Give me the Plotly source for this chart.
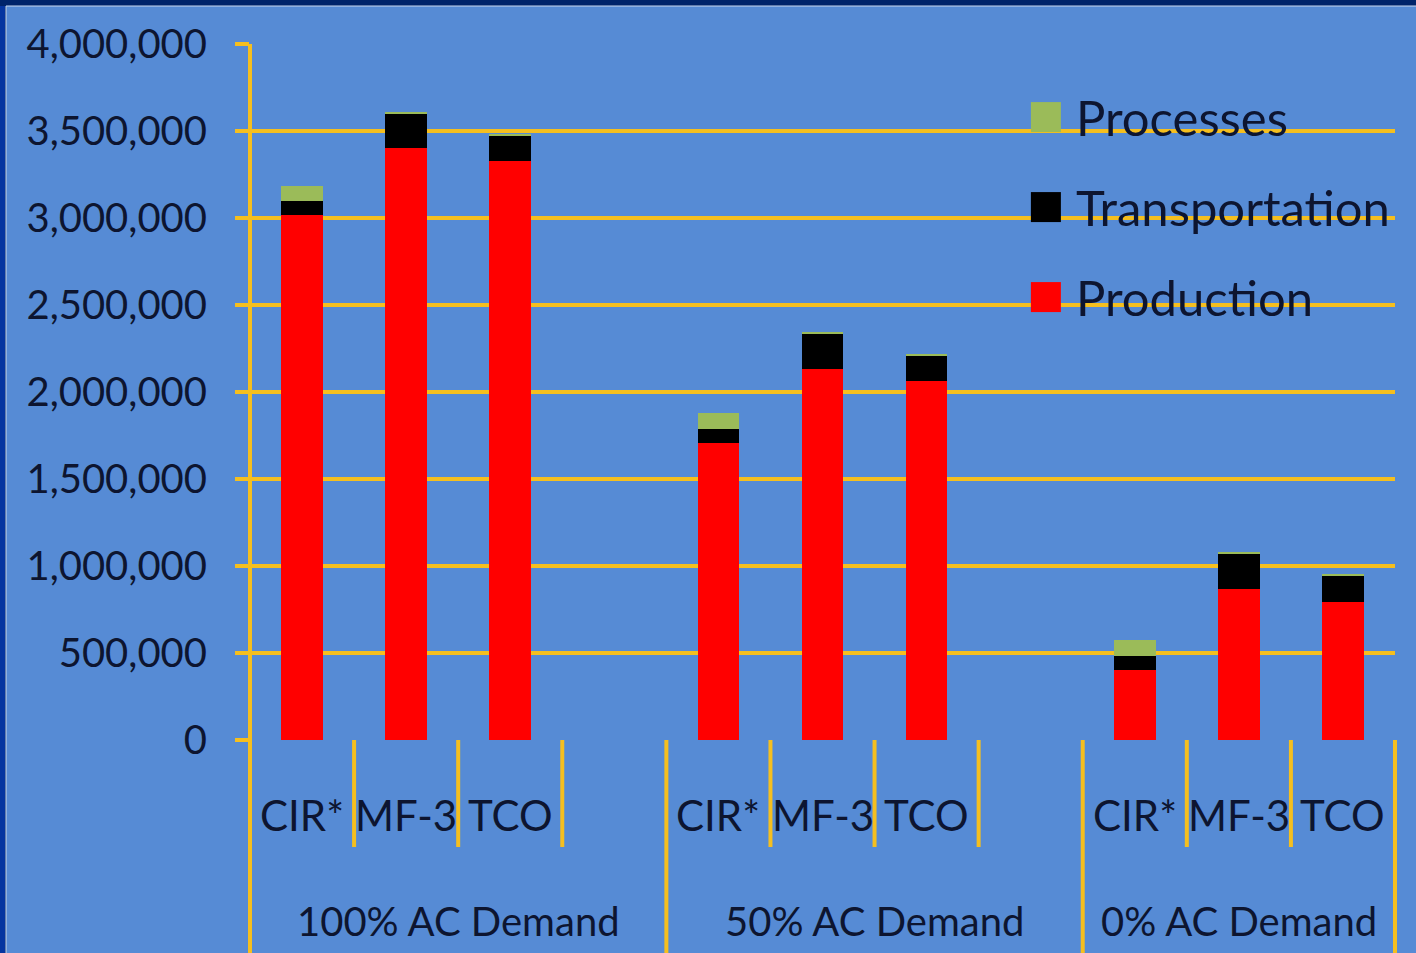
import plotly.graph_objects as go

# Scenario groups and cases
groups = ["100% AC Demand", "50% AC Demand", "0% AC Demand"]
slots_per_group = [4, 4, 3]          # the first two groups keep one empty slot
cases = ["CIR*", "MF-3", "TCO"]

# Energy per stage (one value per group x case, in group order)
production = [3020000, 3400000, 3330000,
              1705000, 2135000, 2065000,
              400000, 866000, 795000]
transportation = [80000, 200000, 143000,
                  81000, 203000, 146000,
                  80000, 203000, 146000]
processes = [86000, 12000, 5000,
             95000, 5000, 8000,
             96000, 11000, 13000]

y_ticks = [0, 500000, 1000000, 1500000, 2000000, 2500000, 3000000, 3500000, 4000000]
y_tick_text = ["0", "500,000", "1,000,000", "1,500,000", "2,000,000",
               "2,500,000", "3,000,000", "3,500,000", "4,000,000"]

series = [
    ("Production", production, "#ff0000"),
    ("Transportation", transportation, "#000000"),
    ("Processes", processes, "#9bbb59"),
]

YELLOW = "#f5bf1f"
TEXT = "#0d1530"
FONT = "Lato"

# slot index of every bar
starts = []
s = 0
for n in slots_per_group:
    starts.append(s)
    s += n
n_slots = s
x_pos = [starts[g] + c for g in range(len(groups)) for c in range(len(cases))]
labels = [cases[c] for g in range(len(groups)) for c in range(len(cases))]

fig = go.Figure()
for name, vals, color in series:
    fig.add_trace(go.Bar(x=x_pos, y=vals, name=name, marker=dict(color=color, line=dict(width=0)),
                         width=0.4, showlegend=False))

shapes = []
annotations = []

# blue panel behind the chart
shapes.append(dict(type="rect", layer="below", xref="paper", yref="paper",
                   xsizemode="pixel", ysizemode="pixel", xanchor=0, yanchor=0,
                   x0=-244, x1=1200, y0=-260, y1=734,
                   fillcolor="#568bd5", line=dict(color="#c9d8ee", width=1)))
# left edge strip of the frame
shapes.append(dict(type="rect", layer="below", xref="paper", yref="paper",
                   xsizemode="pixel", ysizemode="pixel", xanchor=0, yanchor=0,
                   x0=-250, x1=-245, y0=-260, y1=734,
                   fillcolor="#0535a0", line=dict(width=0)))

# category dividers below the axis (slot boundaries in paper units)
for g, n in enumerate(slots_per_group):
    for k in range(n + 1):
        if k == n and g < len(groups) - 1:
            continue
        xb = (starts[g] + k) / n_slots
        full = (k == 0) or (g == len(groups) - 1 and k == n)
        shapes.append(dict(type="line", xref="paper", yref="paper", ysizemode="pixel", yanchor=0,
                           x0=xb, x1=xb, y0=0, y1=-240 if full else -107,
                           line=dict(color=YELLOW, width=4)))

# y axis line
shapes.append(dict(type="line", xref="paper", yref="paper", x0=0, x1=0, y0=1, y1=0,
                   line=dict(color=YELLOW, width=4)))

# case labels and group labels
for x, lab in zip(x_pos, labels):
    annotations.append(dict(x=x, y=0, xref="x", yref="paper", yanchor="middle", yshift=-75,
                            text=lab, showarrow=False, font=dict(family=FONT, size=42, color=TEXT)))
for g, name in enumerate(groups):
    cx = starts[g] + (slots_per_group[g] - 1) / 2
    annotations.append(dict(x=cx, y=0, xref="x", yref="paper", yanchor="middle", yshift=-181,
                            text=name, showarrow=False, font=dict(family=FONT, size=40, color=TEXT)))

# legend: stacked order, top entry first
for i, (name, vals, color) in enumerate(reversed(series)):
    yc = 0.895 - i * 90 / 696
    shapes.append(dict(type="rect", xref="paper", yref="paper",
                       xsizemode="pixel", ysizemode="pixel", xanchor=0.682, yanchor=yc,
                       x0=0, x1=30, y0=-15, y1=15, fillcolor=color, line=dict(width=0)))
    annotations.append(dict(x=0.7196, y=yc, xref="paper", yref="paper", xanchor="left",
                            yanchor="middle", text=name, showarrow=False,
                            font=dict(family=FONT, size=49, color=TEXT)))

fig.update_layout(
    width=1416, height=953,
    margin=dict(l=250, r=21, t=44, b=213),
    paper_bgcolor="#00246a",
    plot_bgcolor="rgba(0,0,0,0)",
    barmode="stack",
    shapes=shapes,
    annotations=annotations,
    xaxis=dict(range=[-0.5, n_slots - 0.5], showticklabels=False, showgrid=False,
               zeroline=False, ticks="", fixedrange=True),
    yaxis=dict(range=[0, 4000000], tickvals=y_ticks, ticktext=y_tick_text,
               showgrid=True, gridcolor=YELLOW, gridwidth=4, zeroline=False,
               ticks="outside", ticklen=14, tickwidth=4, tickcolor=YELLOW,
               showline=False, ticklabelstandoff=20,
               tickfont=dict(family=FONT, size=40, color=TEXT)),
)

fig.write_html("out.html")
